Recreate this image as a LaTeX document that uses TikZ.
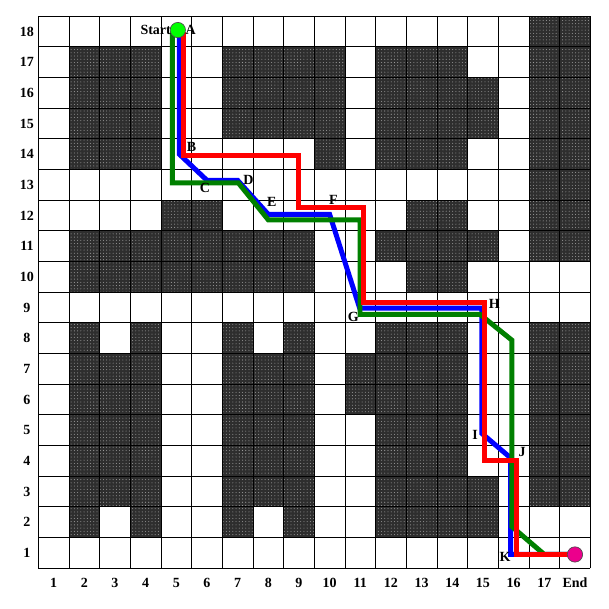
\documentclass[tikz,border=0pt]{standalone}
\usepackage{fontspec}
\setmainfont{Liberation Serif}
\usetikzlibrary{patterns}
\begin{document}
\begin{tikzpicture}[x=1cm,y=1cm,
  font=\fontsize{13}{15}\selectfont\bfseries,
  wall/.style={fill=black!82, postaction={pattern=dots, pattern color=black!40}},
  gridline/.style={line width=0.8pt, black},
  route/.style={line width=4.6pt, line join=miter},
  redroute/.style={route, red},
  blueroute/.style={route, blue},
  greenroute/.style={route, green!50!black},
  lbl/.style={inner sep=0pt}]
\useasboundingbox (-1.249,-1.327) rectangle (18.61,18.53);
% walls
\foreach \r/\cols in {
  18/{17,18},
  17/{2,3,4,7,8,9,10,12,13,14,17,18},
  16/{2,3,4,7,8,9,10,12,13,14,15,17,18},
  15/{2,3,4,7,8,9,10,12,13,14,15,17,18},
  14/{2,3,4,10,12,13,14,17,18},
  13/{17,18},
  12/{5,6,13,14,17,18},
  11/{2,3,4,5,6,7,8,9,12,13,14,15,17,18},
  10/{2,3,4,5,6,7,8,9,13,14},
  8/{2,4,7,9,12,13,14,17,18},
  7/{2,3,4,7,8,9,11,12,13,14,17,18},
  6/{2,3,4,7,8,9,11,12,13,14,17,18},
  5/{2,3,4,7,8,9,12,13,14,17,18},
  4/{2,3,4,7,8,9,12,13,14,17,18},
  3/{2,3,4,7,8,9,12,13,14,15,17,18},
  2/{2,4,7,9,12,13,14,15}}
  {\foreach \c in \cols {\path[wall] (\c-1,\r-1) rectangle (\c,\r);}}
% grid
\draw[gridline] (0,0) grid (18,18);
% axis labels
\foreach \r in {1,...,18} {\node (row\r) at (-0.37,\r-0.5) {\r};}
\foreach \c in {1,...,17} {\node (col\c) at (\c-0.5,-0.48) {\c};}
\node (col18) at (17.5,-0.48) {End};
% routes
\draw[blueroute] (4.6,17.5) -- (4.6,13.5) -- (5.5,12.65) -- (6.5,12.65) -- (7.5,11.54)
  -- (9.5,11.54) -- (10.48,8.48) -- (14.46,8.48) -- (14.46,4.4) -- (15.4,3.6)
  -- (15.4,0.45) -- (17.5,0.45);
\draw[greenroute] (4.37,17.5) -- (4.37,12.57) -- (6.52,12.57) -- (7.5,11.36)
  -- (10.49,11.36) -- (10.49,8.28) -- (14.4,8.28) -- (15.44,7.44) -- (15.44,1.36)
  -- (16.5,0.45) -- (17.5,0.45);
\draw[redroute] (4.72,17.5) -- (4.72,13.47) -- (8.5,13.47) -- (8.5,11.75) -- (10.6,11.75)
  -- (10.6,8.67) -- (14.55,8.67) -- (14.55,3.5) -- (15.6,3.5) -- (15.6,0.45) -- (17.5,0.45);
% start and end
\node[circle, draw=black!70, line width=0.6pt, fill=green, minimum size=0.5cm, inner sep=0pt] (start) at (4.55,17.55) {};
\node[circle, draw=black!70, line width=0.6pt, fill=magenta, minimum size=0.5cm, inner sep=0pt] (end) at (17.5,0.45) {};
\node[lbl, anchor=east] (startlbl) at (4.33,17.55) {Start};
\node[lbl] (A) at (4.97,17.55) {A};
\node[lbl] (B) at (5.0,13.75) {B};
\node[lbl] (C) at (5.43,12.41) {C};
\node[lbl] (D) at (6.85,12.66) {D};
\node[lbl] (E) at (7.61,11.93) {E};
\node[lbl] (F) at (9.62,12.0) {F};
\node[lbl] (G) at (10.27,8.2) {G};
\node[lbl] (H) at (14.87,8.62) {H};
\node[lbl] (I) at (14.24,4.35) {I};
\node[lbl] (J) at (15.78,3.78) {J};
\node[lbl] (K) at (15.22,0.38) {K};
\end{tikzpicture}
\end{document}
